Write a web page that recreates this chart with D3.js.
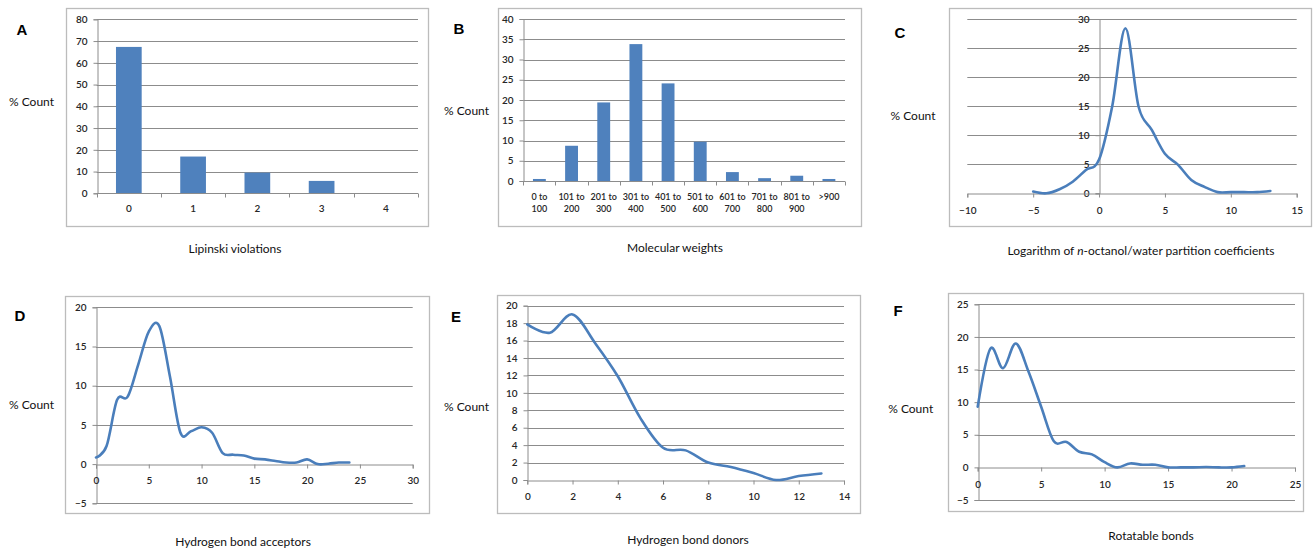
<!DOCTYPE html>
<html>
<head>
<meta charset="utf-8">
<script src="https://cdn.jsdelivr.net/npm/d3@7"></script>
<style>
  html, body { margin: 0; padding: 0; background: #fff; }
  svg { display: block; }
</style>
</head>
<body>
<svg id="chart" width="1313" height="552"></svg>
<script>
// ---------------- DATA ----------------
const lipinskiCategories = ["0", "1", "2", "3", "4"];
const lipinskiPercent = [67.3, 16.9, 9.5, 5.7, 0];
const lipinskiYTicks = [0, 10, 20, 30, 40, 50, 60, 70, 80];

const mwCategories = ["0 to 100", "101 to 200", "201 to 300", "301 to 400", "401 to 500",
                      "501 to 600", "601 to 700", "701 to 800", "801 to 900", ">900"];
const mwPercent = [0.5, 8.7, 19.4, 33.8, 24.1, 9.7, 2.2, 0.7, 1.3, 0.5];
const mwYTicks = [0, 5, 10, 15, 20, 25, 30, 35, 40];

const logPX = [-5, -4, -3, -2, -1, 0, 1, 2, 3, 4, 5, 6, 7, 8, 9, 10, 11, 12, 13];
const logPPercent = [0.3, 0.0, 0.7, 2.0, 4.0, 5.8, 15.0, 28.4, 14.9, 10.9, 6.8, 4.9, 2.3, 1.1, 0.2, 0.2, 0.2, 0.2, 0.4];
const logPXTicks = [-10, -5, 0, 5, 10, 15];
const logPYTicks = [0, 5, 10, 15, 20, 25, 30];

const hbaX = [0, 1, 2, 3, 4, 5, 6, 7, 8, 9, 10, 11, 12, 13, 14, 15, 16, 17, 18, 19, 20, 21, 22, 23, 24];
const hbaPercent = [0.85, 2.3, 8.2, 8.6, 12.7, 16.9, 17.6, 11.2, 4.0, 4.2, 4.7, 4.0, 1.4, 1.2, 1.1, 0.7, 0.6, 0.4, 0.2, 0.2, 0.6, 0.0, 0.05, 0.2, 0.2];
const hbaXTicks = [0, 5, 10, 15, 20, 25, 30];
const hbaYTicks = [-5, 0, 5, 10, 15, 20];

const hbdX = [0, 1, 2, 3, 4, 5, 6, 7, 8, 9, 10, 11, 12, 13];
const hbdPercent = [17.85, 16.9, 19.0, 15.7, 11.9, 7.1, 3.7, 3.4, 2.0, 1.5, 0.8, 0.0, 0.45, 0.75];
const hbdXTicks = [0, 2, 4, 6, 8, 10, 12, 14];
const hbdYTicks = [0, 2, 4, 6, 8, 10, 12, 14, 16, 18, 20];

const rotX = [0, 1, 2, 3, 4, 5, 6, 7, 8, 9, 10, 11, 12, 13, 14, 15, 16, 17, 18, 19, 20, 21];
const rotPercent = [9.3, 18.2, 15.2, 19.0, 14.7, 9.3, 4.0, 3.9, 2.4, 2.0, 0.8, 0.0, 0.6, 0.4, 0.4, 0.0, 0.0, 0.0, 0.05, 0.0, 0.0, 0.2];
const rotXTicks = [0, 5, 10, 15, 20, 25];
const rotYTicks = [-5, 0, 5, 10, 15, 20, 25];

const panelLetters = ["A", "B", "C", "D", "E", "F"];
const yTitle = "% Count";
const xTitles = ["Lipinski violations", "Molecular weights", null,
                 "Hydrogen bond acceptors", "Hydrogen bond donors", "Rotatable bonds"];

// ---------------- STYLE ----------------
const FONT = "Lato, 'Open Sans', sans-serif";
const BAR = "#4F81BD";
const LINE = "#4A7EBB";
const GRID = "#8c8c8c";
const FRAME = "#bcbcbc";
const AXIS = "#8c8c8c";
const TICKTXT = "#262626";

const svg = d3.select("#chart");

function frame(x0, y0, x1, y1) {
  svg.append("rect").attr("x", x0 + 0.5).attr("y", y0 + 0.5)
    .attr("width", x1 - x0).attr("height", y1 - y0)
    .attr("fill", "#fff").attr("stroke", FRAME).attr("stroke-width", 1.3);
}
function letter(t, x, y) {
  svg.append("text").attr("x", x).attr("y", y).attr("text-anchor", "middle")
    .attr("font-family", "'Liberation Sans', Arial, sans-serif").attr("font-weight", "bold")
    .attr("font-size", 15).attr("fill", "#000").text(t);
}
function title(t, x, y, html) {
  const el = svg.append("text").attr("x", x).attr("y", y).attr("text-anchor", "middle")
    .attr("dominant-baseline", "central")
    .attr("font-family", FONT).attr("font-size", 12).attr("fill", "#111");
  if (html) {
    html.forEach(p => {
      const ts = el.append("tspan").text(p.t);
      if (p.i) ts.attr("font-style", "italic");
    });
  } else el.text(t);
}
function gridlines(g, y, ticks, x0, x1) {
  g.append("g").selectAll("line").data(ticks).join("line")
    .attr("x1", x0).attr("x2", x1)
    .attr("y1", d => Math.round(y(d)) + 0.5).attr("y2", d => Math.round(y(d)) + 0.5)
    .attr("stroke", GRID).attr("stroke-width", 1);
}
function styleAxis(sel, size) {
  sel.select(".domain").attr("stroke", AXIS).attr("stroke-width", 1);
  sel.selectAll(".tick line").attr("stroke", AXIS);
  sel.selectAll(".tick text").attr("font-family", FONT).attr("font-size", size || 10)
    .attr("fill", TICKTXT).attr("font-weight", 600);
}

// ---------- Bar panel ----------
function barPanel(cfg) {
  frame(...cfg.frame);
  const g = svg.append("g");
  const x = d3.scaleBand().domain(cfg.cats).range([cfg.px0, cfg.px1])
    .paddingInner(0.6).paddingOuter(0.3);
  const y = d3.scaleLinear().domain([0, d3.max(cfg.yTicks)]).range([cfg.py0, cfg.py1]);
  gridlines(g, y, cfg.yTicks.filter(d => d !== 0), cfg.px0, cfg.px1);
  g.selectAll("rect.bar").data(cfg.vals).join("rect").attr("class", "bar")
    .attr("x", (d, i) => x(cfg.cats[i])).attr("width", x.bandwidth())
    .attr("y", d => y(d)).attr("height", d => y(0) - y(d))
    .attr("fill", BAR);
  const ya = g.append("g").attr("transform", `translate(${Math.round(cfg.px0) + 0.5},0)`)
    .call(d3.axisLeft(y).tickValues(cfg.yTicks).tickSize(4).tickPadding(6).tickFormat(d3.format("d")));
  styleAxis(ya);
  const y0 = Math.round(y(0)) + 0.5;
  const xa = g.append("g").attr("transform", `translate(0,${y0})`)
    .call(d3.axisBottom(x).tickSize(0).tickPadding(cfg.xPad));
  styleAxis(xa, cfg.xFont);
  xa.select(".domain").attr("d", `M${cfg.px0},0H${cfg.px1}`);
  const bounds = d3.range(cfg.cats.length + 1).map(i => cfg.px0 + i * x.step());
  g.append("g").selectAll("line").data(bounds).join("line")
    .attr("x1", d => Math.round(d) + 0.5).attr("x2", d => Math.round(d) + 0.5)
    .attr("y1", y0).attr("y2", y0 + 4).attr("stroke", AXIS);
  if (cfg.twoLine) {
    xa.selectAll(".tick text").each(function(d) {
      const t = d3.select(this);
      const parts = d.indexOf(" to ") >= 0 ? [d.split(" to ")[0] + " to", d.split(" to ")[1]] : [d];
      t.text(null);
      parts.forEach((p, i) => t.append("tspan").attr("x", 0).attr("dy", i === 0 ? "0.71em" : "1.35em").text(p));
    });
  }
}

// ---------- Line panel ----------
function linePanel(cfg) {
  frame(...cfg.frame);
  const g = svg.append("g");
  const x = d3.scaleLinear().domain(d3.extent(cfg.xTicks)).range([cfg.px0, cfg.px1]);
  const y = d3.scaleLinear().domain(d3.extent(cfg.yTicks)).range([cfg.py0, cfg.py1]);
  gridlines(g, y, cfg.yTicks.filter(d => d !== 0), cfg.px0, cfg.px1);
  const xAt0 = Math.round(x(Math.max(0, cfg.xTicks[0]))) + 0.5;
  const yAt0 = Math.round(y(0)) + 0.5;
  const ya = g.append("g").attr("transform", `translate(${xAt0},0)`)
    .call(d3.axisLeft(y).tickValues(cfg.yTicks).tickSize(4).tickPadding(6).tickFormat(d3.format("d")));
  styleAxis(ya);
  const xa = g.append("g").attr("transform", `translate(0,${yAt0})`)
    .call(d3.axisBottom(x).tickValues(cfg.xTicks).tickSize(4).tickPadding(cfg.xPad).tickFormat(d3.format("d")));
  styleAxis(xa);
  const line = d3.line().x(d => x(d[0])).y(d => y(d[1])).curve(d3.curveCardinal.tension(0));
  g.append("path").datum(cfg.xs.map((v, i) => [v, cfg.vals[i]]))
    .attr("d", line).attr("fill", "none").attr("stroke", LINE)
    .attr("stroke-width", 2.6).attr("stroke-linejoin", "round").attr("stroke-linecap", "round");
}

// ---------------- PANELS ----------------
barPanel({ frame: [66, 8, 428, 226], cats: lipinskiCategories, vals: lipinskiPercent, yTicks: lipinskiYTicks,
  px0: 96.7, px1: 418, py0: 193.3, py1: 19.3, xPad: 11 });
letter(panelLetters[0], 22, 35);
title(yTitle, 31.5, 101.7);
title(xTitles[0], 235, 248);

barPanel({ frame: [498, 8, 861, 226], cats: mwCategories, vals: mwPercent, yTicks: mwYTicks,
  px0: 523.3, px1: 845, py0: 181, py1: 19, xPad: 12, twoLine: true, xFont: 9 });
letter(panelLetters[1], 459, 34);
title(yTitle, 466.5, 110);
title(xTitles[1], 675, 247);

linePanel({ frame: [949, 8, 1311, 226], xs: logPX, vals: logPPercent, xTicks: logPXTicks, yTicks: logPYTicks,
  px0: 967.3, px1: 1296.7, py0: 193.3, py1: 19, xPad: 9 });
letter(panelLetters[2], 900, 38);
title(yTitle, 913, 115);
title(null, 1141, 250, [{ t: "Logarithm of " }, { t: "n", i: true }, { t: "-octanol/water partition coefficients" }]);

linePanel({ frame: [65, 296, 429, 513], xs: hbaX, vals: hbaPercent, xTicks: hbaXTicks, yTicks: hbaYTicks,
  px0: 96, px1: 412.7, py0: 503.3, py1: 307.3, xPad: 8 });
letter(panelLetters[3], 20, 321);
title(yTitle, 31.5, 404);
title(xTitles[3], 243, 541.5);

linePanel({ frame: [497, 295, 860, 513], xs: hbdX, vals: hbdPercent, xTicks: hbdXTicks, yTicks: hbdYTicks,
  px0: 527.3, px1: 844, py0: 480, py1: 305.7, xPad: 8 });
letter(panelLetters[4], 456, 322);
title(yTitle, 466.5, 406.7);
title(xTitles[4], 688, 539);

linePanel({ frame: [948, 293, 1303, 511], xs: rotX, vals: rotPercent, xTicks: rotXTicks, yTicks: rotYTicks,
  px0: 977.7, px1: 1295, py0: 500, py1: 304.3, xPad: 9 });
letter(panelLetters[5], 898, 316);
title(yTitle, 910.7, 408.3);
title(xTitles[5], 1151, 535.7);
</script>
</body>
</html>
